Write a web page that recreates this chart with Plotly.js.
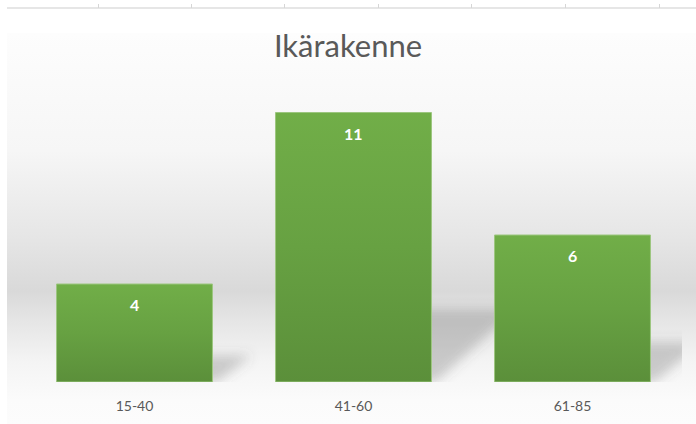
<!DOCTYPE html>
<html>
<head>
<meta charset="utf-8">
<script src="https://cdn.plot.ly/plotly-3.0.1.min.js"></script>
<style>
  html, body { margin: 0; padding: 0; background: #ffffff; }
  #wrap { position: relative; width: 696px; height: 424px; overflow: hidden; }
  #bg { position: absolute; left: 7px; top: 33px; width: 689px; height: 391px;
        background: linear-gradient(to bottom, #fdfdfd 0%, #f6f6f6 30%, #e6e6e6 52%, #d9d9d9 66%, #e6e6e6 74%, #f4f4f4 84%, #fbfbfb 94%, #fcfcfc 100%); }
  #hdr { position: absolute; left: 7px; top: 7px; width: 689px; height: 2px; background: #e6e6e6; }
  .tk { position: absolute; top: 4px; width: 1px; height: 4px; background: #d6d6d6; }
  #chart { position: absolute; left: 0; top: 0; width: 696px; height: 424px; }
</style>
</head>
<body>
<div id="wrap">
  <div id="bg"></div>
  <div id="hdr"></div>
  <div class="tk" style="left:98px"></div>
  <div class="tk" style="left:191px"></div>
  <div class="tk" style="left:284px"></div>
  <div class="tk" style="left:378px"></div>
  <div class="tk" style="left:471px"></div>
  <div class="tk" style="left:565px"></div>
  <div class="tk" style="left:659px"></div>
  <div id="chart"></div>
</div>
<script>
const titleText = "Ikärakenne";
const categories = ["15-40", "41-60", "61-85"];
const values = [4, 11, 6];

const barWidth = 0.712;
const fontFam = "Lato, 'Open Sans', sans-serif";

const trace = {
  type: "bar",
  x: categories.map((c, i) => i),
  y: values,
  width: barWidth,
  marker: { color: "#68a043", line: { color: "#9cc67f", width: 1 } },
  hoverinfo: "none"
};

const annotations = values.map((v, i) => ({
  x: i, y: v, xref: "x", yref: "y",
  text: String(v), showarrow: false,
  yanchor: "top", yshift: -9,
  font: { family: fontFam, size: 16, color: "#ffffff", weight: "bold" }
}));

const shapes = values.map((v, i) => {
  const xr = i + barWidth / 2;
  const top = 0.27 * v;
  const k = 0.03 * v + 0.06;
  return {
    type: "path", xref: "x", yref: "y", layer: "below",
    path: `M ${xr - 0.05},0 L ${xr - 0.05},${top} L ${xr + k},${top} L ${xr + 0.02},0 Z`,
    fillcolor: "rgba(90,90,90,0.28)", line: { width: 0 }
  };
});

const layout = {
  width: 696, height: 424,
  margin: { l: 25, r: 14, t: 88, b: 42 },
  paper_bgcolor: "rgba(0,0,0,0)",
  plot_bgcolor: "rgba(0,0,0,0)",
  title: {
    text: titleText, x: 0.5, xanchor: "center",
    y: 1 - 46 / 424, yref: "container", yanchor: "middle",
    font: { family: fontFam, size: 31, color: "#595959" }
  },
  xaxis: {
    range: [-0.5, 2.5], tickmode: "array",
    tickvals: categories.map((c, i) => i), ticktext: categories,
    showgrid: false, zeroline: false, showline: false, ticks: "",
    ticklabelstandoff: 14,
    tickfont: { family: fontFam, size: 14, color: "#595959" },
    fixedrange: true
  },
  yaxis: {
    range: [0, 12], showgrid: false, zeroline: false, showline: false,
    showticklabels: false, ticks: "", fixedrange: true
  },
  annotations: annotations,
  shapes: shapes,
  showlegend: false,
  bargap: 0.2
};

Plotly.newPlot("chart", [trace], layout, { staticPlot: true, displayModeBar: false }).then(gd => {
  const svg = gd.querySelector(".main-svg");
  let defs = svg.querySelector("defs");
  const ns = "http://www.w3.org/2000/svg";
  if (!defs) { defs = document.createElementNS(ns, "defs"); svg.insertBefore(defs, svg.firstChild); }
  const lg = document.createElementNS(ns, "linearGradient");
  lg.setAttribute("id", "barGrad");
  lg.setAttribute("x1", "0"); lg.setAttribute("y1", "0");
  lg.setAttribute("x2", "0"); lg.setAttribute("y2", "1");
  [["0%", "#71ae48"], ["50%", "#67a142"], ["100%", "#5b8f3a"]].forEach(([o, c]) => {
    const s = document.createElementNS(ns, "stop");
    s.setAttribute("offset", o); s.setAttribute("stop-color", c);
    lg.appendChild(s);
  });
  defs.appendChild(lg);
  const f = document.createElementNS(ns, "filter");
  f.setAttribute("id", "shBlur");
  f.setAttribute("x", "-50%"); f.setAttribute("y", "-50%");
  f.setAttribute("width", "200%"); f.setAttribute("height", "200%");
  const b = document.createElementNS(ns, "feGaussianBlur");
  b.setAttribute("stdDeviation", "6");
  f.appendChild(b);
  defs.appendChild(f);
  gd.querySelectorAll(".barlayer .point path").forEach(p => { p.style.fill = "url(#barGrad)"; });
  gd.querySelectorAll(".shapelayer path").forEach(p => { p.setAttribute("filter", "url(#shBlur)"); });
});
</script>
</body>
</html>
